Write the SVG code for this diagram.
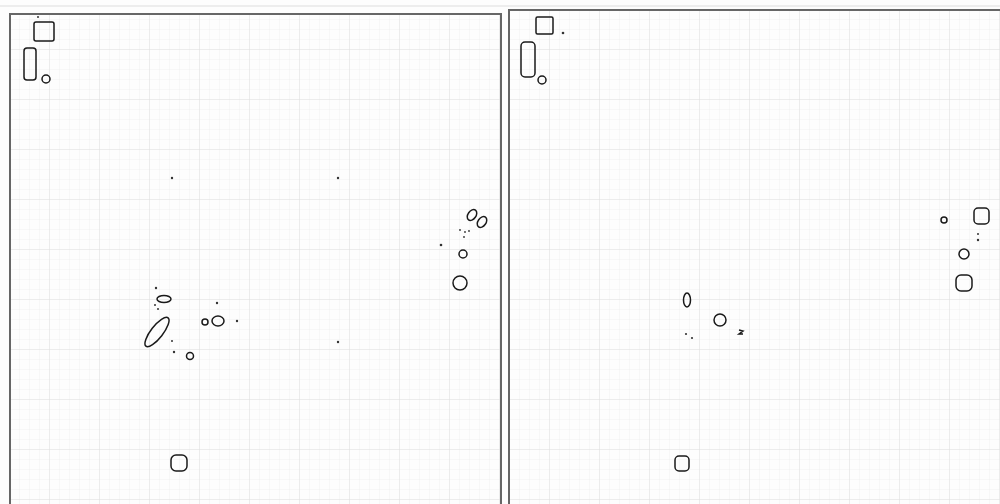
<svg xmlns="http://www.w3.org/2000/svg" width="1000" height="504" viewBox="0 0 1000 504">
<defs>
<pattern id="g" x="0" y="0" width="10" height="10" patternUnits="userSpaceOnUse">
<path d="M10 0V10M0 10H10" fill="none" stroke="#ececec" stroke-width="0.8"/>
</pattern>
<pattern id="G" x="0" y="0" width="50" height="50" patternUnits="userSpaceOnUse">
<path d="M50 0V50M0 50H50" fill="none" stroke="#e0e0e0" stroke-width="1"/>
</pattern>
<style>
.s{fill:none;stroke:#1a1a1a;stroke-width:1.5}
.d{fill:#333}
.b{fill:none;stroke:#666;stroke-width:2}
</style>
</defs>
<rect width="1000" height="504" fill="#fdfdfd"/>
<rect x="10" y="14" width="491" height="490" fill="url(#g)"/>
<rect x="10" y="14" width="491" height="490" fill="url(#G)"/>
<rect x="509" y="10" width="491" height="494" fill="url(#g)"/>
<rect x="509" y="10" width="491" height="494" fill="url(#G)"/>
<line x1="0" y1="6" x2="1000" y2="6" stroke="#ddd" stroke-width="1"/>
<path class="b" d="M10 504V14H501V504"/>
<path class="b" d="M509 504V10H1000"/>

<g id="left">
<rect class="s" x="34" y="22" width="20" height="19" rx="2"/>
<circle class="d" cx="38" cy="17" r="1"/>
<rect class="s" x="24" y="48" width="12" height="32" rx="3"/>
<circle class="s" cx="46" cy="79" r="4"/>
<circle class="d" cx="172" cy="178" r="1.2"/>
<circle class="d" cx="338" cy="178" r="1.2"/>
<circle class="d" cx="338" cy="342" r="1.2"/>
<circle class="d" cx="156" cy="288" r="1.2"/>
<ellipse class="s" cx="164" cy="299" rx="7" ry="3.5"/>
<circle class="d" cx="155" cy="305" r="1"/>
<circle class="d" cx="158" cy="309" r="1"/>
<ellipse class="s" cx="157" cy="332" rx="18" ry="6" transform="rotate(-52 157 332)"/>
<circle class="d" cx="172" cy="341" r="1"/>
<circle class="d" cx="174" cy="352" r="1.2"/>
<circle class="s" cx="190" cy="356" r="3.5"/>
<circle class="s" cx="205" cy="322" r="3"/>
<ellipse class="s" cx="218" cy="321" rx="6" ry="5"/>
<circle class="d" cx="217" cy="303" r="1.2"/>
<circle class="d" cx="237" cy="321" r="1.2"/>
<ellipse class="s" cx="472" cy="215" rx="4" ry="6" transform="rotate(35 472 215)"/>
<ellipse class="s" cx="482" cy="222" rx="4" ry="6" transform="rotate(35 482 222)"/>
<circle class="d" cx="460" cy="230" r="0.9"/>
<circle class="d" cx="465" cy="232" r="0.9"/>
<circle class="d" cx="469" cy="231" r="0.9"/>
<circle class="d" cx="464" cy="237" r="0.9"/>
<circle class="d" cx="441" cy="245" r="1.3"/>
<circle class="s" cx="463" cy="254" r="4"/>
<circle class="s" cx="460" cy="283" r="7"/>
<rect class="s" x="171" y="455" width="16" height="16" rx="5"/>
</g>

<g id="right">
<rect class="s" x="536" y="17" width="17" height="17" rx="1.5"/>
<circle class="d" cx="563" cy="33" r="1.3"/>
<rect class="s" x="521" y="42" width="14" height="35" rx="4"/>
<circle class="s" cx="542" cy="80" r="4"/>
<ellipse class="s" cx="687" cy="300" rx="3.5" ry="7"/>
<circle class="s" cx="720" cy="320" r="6"/>
<circle class="d" cx="686" cy="334" r="1.1"/>
<circle class="d" cx="692" cy="338" r="1.1"/>
<path class="s" d="M739 330l4 1-4 3h4" stroke-width="1"/>
<circle class="s" cx="944" cy="220" r="3"/>
<rect class="s" x="974" y="208" width="15" height="16" rx="4"/>
<circle class="d" cx="978" cy="234" r="1"/>
<circle class="d" cx="978" cy="240" r="1.2"/>
<circle class="s" cx="964" cy="254" r="5"/>
<rect class="s" x="956" y="275" width="16" height="16" rx="5"/>
<rect class="s" x="675" y="456" width="14" height="15" rx="4"/>
</g>
</svg>
